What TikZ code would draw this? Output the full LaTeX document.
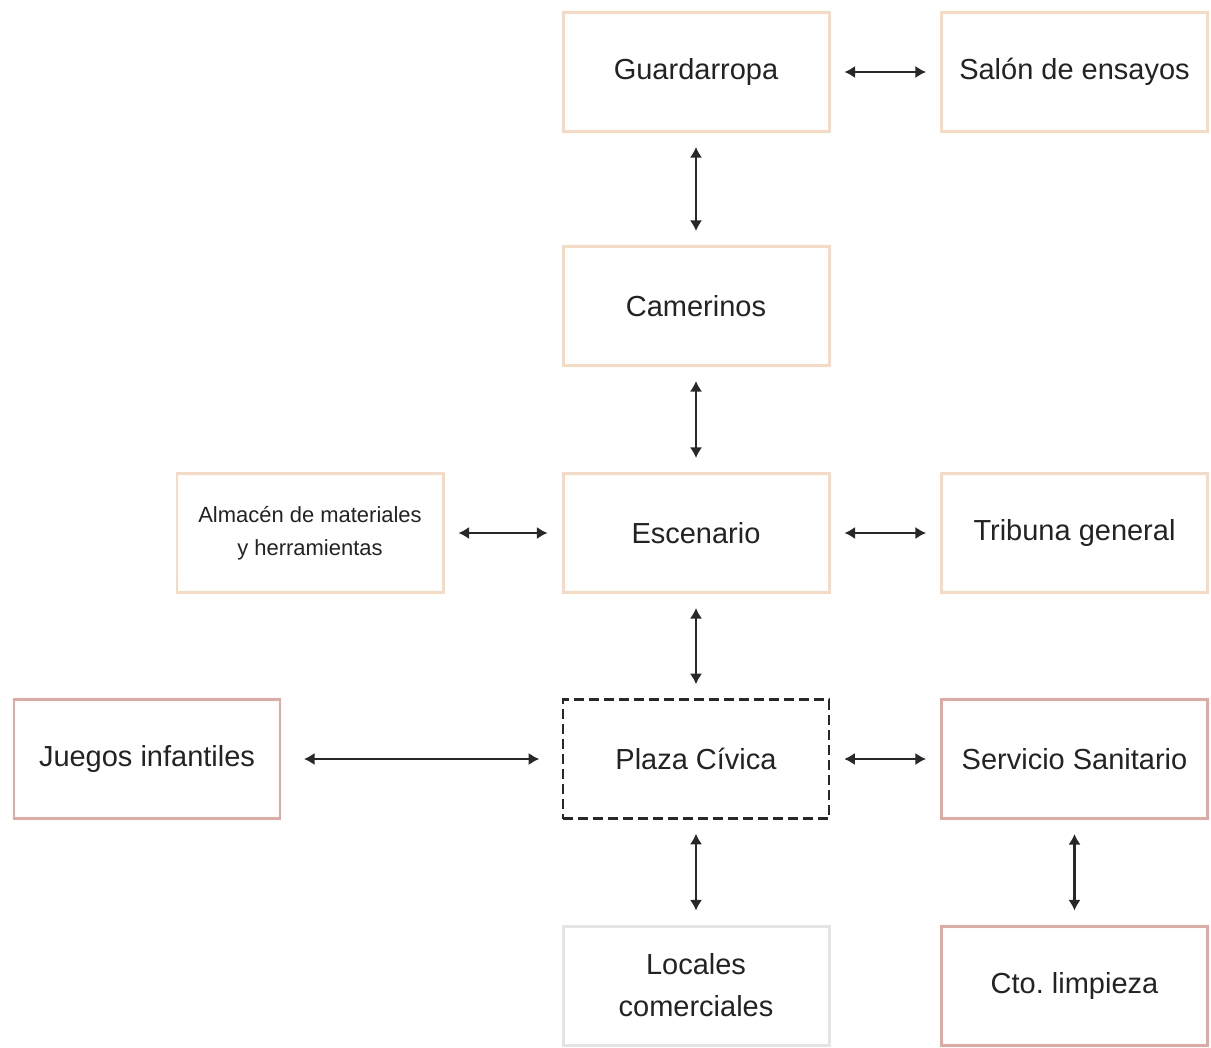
\documentclass[tikz,border=0pt]{standalone}
\usepackage{fontspec}
\setmainfont{Liberation Sans}
\usetikzlibrary{arrows.meta}
\definecolor{mypeach}{RGB}{248,218,192}
\definecolor{myrose}{RGB}{226,168,162}
\definecolor{mygrey}{RGB}{228,228,228}
\definecolor{mydark}{RGB}{40,40,40}
\definecolor{mytext}{RGB}{35,35,35}
\tikzset{
  room/.style={rectangle, draw=mypeach, fill=white,
    minimum width=5.32cm, minimum height=2.38cm,
    line width=1.7pt, inner sep=0pt, align=center, text=mytext,
    font=\fontsize{16.5}{24}\selectfont},
  rosebox/.style={room, draw=myrose},
  greybox/.style={room, draw=mygrey},
  plazabox/.style={room, draw=mydark, line width=1.4pt,
    dash pattern=on 0.2cm off 0.1cm},
  link/.style={{Latex[length=6pt,width=7pt]}-{Latex[length=6pt,width=7pt]},
    line width=1.6pt, color=mydark, shorten <=0.28cm, shorten >=0.28cm}
}

\begin{document}
\begin{tikzpicture}
  \useasboundingbox (0,0) rectangle (24.22,-20.96);

  % Upper column
  \node[room] (guard) at (13.92,-1.44) {Guardarropa};
  \node[room] (salon) at (21.49,-1.44) {Salón de ensayos};
  \node[room] (camer) at (13.92,-6.12) {Camerinos};

  % Stage row
  \node[room, font=\fontsize{12.5}{19}\selectfont] (almac) at (6.2,-10.66) {Almacén de materiales\\y herramientas};
  \node[room] (escen) at (13.92,-10.66) {Escenario};
  \node[room] (tribu) at (21.49,-10.66) {Tribuna general};

  % Plaza row
  \node[rosebox] (juego) at (2.94,-15.18) {Juegos infantiles};
  \node[plazabox] (plaza) at (13.92,-15.18) {Plaza Cívica};
  \node[rosebox] (servi) at (21.49,-15.18) {Servicio Sanitario};

  % Bottom row
  \node[greybox] (local) at (13.92,-19.71) {Locales\\comerciales};
  \node[rosebox] (limpi) at (21.49,-19.71) {Cto.\ limpieza};

  % Connections
  \draw[link] (guard) -- (salon);
  \draw[link] (guard) -- (camer);
  \draw[link] (camer) -- (escen);
  \draw[link] (almac) -- (escen);
  \draw[link] (escen) -- (tribu);
  \draw[link] (escen) -- (plaza);
  \draw[link, shorten <=0.45cm, shorten >=0.45cm] (juego) -- (plaza);
  \draw[link] (plaza) -- (servi);
  \draw[link] (plaza) -- (local);
  \draw[link] (servi) -- (limpi);
\end{tikzpicture}
\end{document}
